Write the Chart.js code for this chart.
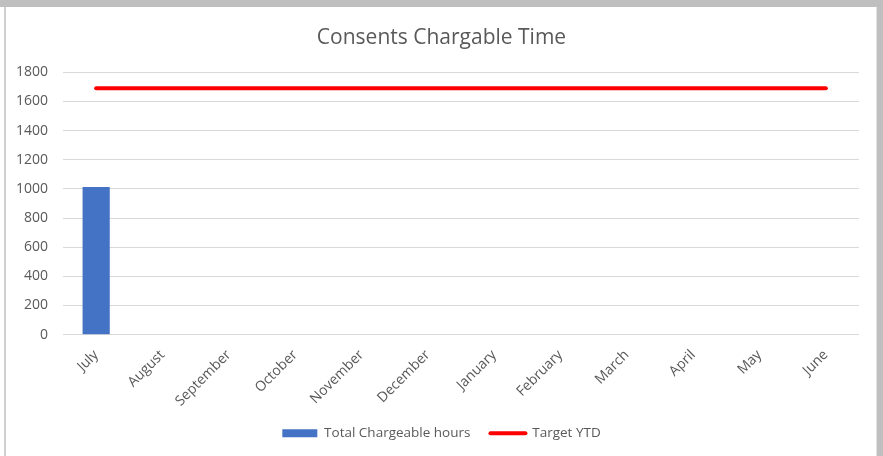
<!DOCTYPE html>
<html>
<head>
<meta charset="utf-8">
<script src="https://cdn.jsdelivr.net/npm/chart.js@4"></script>
<style>
  body { margin: 0; background: #fff; }
  #page { position: relative; width: 883px; height: 456px; overflow: hidden; background: #fff; }
  #topbar { position: absolute; left: 0; top: 0; width: 883px; height: 7px; background: #bfbfbf; }
  #leftbar { position: absolute; left: 4px; top: 7px; width: 2px; height: 449px; background: #d0d0d0; }
  #rightbar { position: absolute; left: 877px; top: 7px; width: 6px; height: 449px; background: #bfbfbf; }
  #rightline { position: absolute; left: 876px; top: 7px; width: 1px; height: 449px; background: #e4e4e4; }
  #wrap { position: absolute; left: 7px; top: 7px; width: 869px; height: 449px; }
</style>
</head>
<body>
<div id="page">
  <div id="topbar"></div>
  <div id="leftbar"></div>
  <div id="rightline"></div>
  <div id="rightbar"></div>
  <div id="wrap"><canvas id="chart" width="869" height="449"></canvas></div>
</div>
<script>
// Months of the financial year
const months = ['July', 'August', 'September', 'October', 'November', 'December',
  'January', 'February', 'March', 'April', 'May', 'June'];

// Hours recorded so far (only July has data)
const chargeableHours = [1012, null, null, null, null, null, null, null, null, null, null, null];

// Year-to-date target
const targetYTD = [1690, 1690, 1690, 1690, 1690, 1690, 1690, 1690, 1690, 1690, 1690, 1690];

const yTicks = [0, 200, 400, 600, 800, 1000, 1200, 1400, 1600, 1800];

Chart.defaults.font.family = '"Open Sans", sans-serif';
Chart.defaults.color = '#595959';

const ctx = document.getElementById('chart').getContext('2d');

new Chart(ctx, {
  type: 'bar',
  data: {
    labels: months,
    datasets: [{
      type: 'line',
      label: 'Target YTD',
      data: targetYTD,
      borderColor: '#ff0000',
      backgroundColor: '#ff0000',
      borderWidth: 4,
      borderCapStyle: 'round',
      pointRadius: 0,
      pointStyle: 'line',
      order: 0
    }, {
      label: 'Total Chargeable hours',
      data: chargeableHours,
      backgroundColor: '#4472c4',
      barPercentage: 0.41,
      categoryPercentage: 1,
      pointStyle: 'rect',
      order: 1
    }]
  },
  options: {
    responsive: false,
    animation: false,
    layout: { padding: { left: 0, right: 0, top: 0, bottom: 6 } },
    plugins: {
      title: {
        display: true,
        text: 'Consents Chargable Time',
        color: '#595959',
        font: { size: 21, weight: 'normal' },
        padding: { top: 18, bottom: 22 }
      },
      legend: {
        position: 'bottom',
        labels: {
          usePointStyle: true,
          pointStyleWidth: 35,
          boxHeight: 8,
          padding: 20,
          color: '#595959',
          font: { size: 13.5 },
          // bar series first, then the target line
          generateLabels: chart => chart.data.datasets.map((ds, i) => ({
            text: ds.label,
            datasetIndex: i,
            fillStyle: ds.backgroundColor,
            strokeStyle: ds.type === 'line' ? ds.borderColor : ds.backgroundColor,
            lineWidth: ds.type === 'line' ? 4 : 0,
            lineCap: 'round',
            pointStyle: ds.pointStyle,
            fontColor: '#595959',
            hidden: false
          })).reverse()
        }
      },
      tooltip: { enabled: false }
    },
    scales: {
      x: {
        grid: { display: false },
        border: { display: false },
        afterFit: axis => { axis.height -= 7; },
        ticks: {
          minRotation: 45,
          maxRotation: 45,
          padding: 4,
          font: { size: 14 }
        }
      },
      y: {
        min: 0,
        max: 1800,
        afterBuildTicks: axis => { axis.ticks = yTicks.map(v => ({ value: v })); },
        afterFit: axis => { axis.width = 56; },
        grid: { color: '#d9d9d9', lineWidth: 1, drawTicks: false },
        border: { display: false },
        ticks: { padding: 15, font: { size: 14 }, callback: v => String(v) }
      },
      // empty right-hand axis, only keeps space on the right of the plot
      yRight: {
        position: 'right',
        grid: { display: false },
        border: { display: false },
        ticks: { display: false },
        afterFit: axis => { axis.width = 17; }
      }
    }
  }
});
</script>
</body>
</html>
